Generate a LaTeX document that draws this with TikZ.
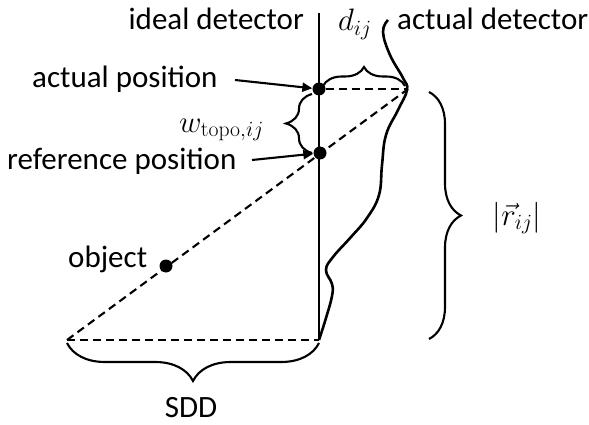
\RequirePackage{fix-cm}
\documentclass[tikz,border=0pt]{standalone}
\usepackage[no-math]{fontspec}
\setmainfont{Carlito}
\usetikzlibrary{arrows.meta,decorations.pathreplacing}
\tikzset{
  detline/.style={line width=2.6pt},
  detdash/.style={line width=2.1pt, dash pattern=on 8pt off 5pt},
  detdot/.style={circle, fill=black, inner sep=0pt, minimum size=13pt},
  detarrow/.style={line width=2.1pt, -{Triangle[length=10pt,width=9pt]}},
  detbrace/.style={line width=2.1pt, decorate, decoration={brace, amplitude=#1}},
  detlabel/.style={inner sep=0pt, font=\fontsize{31}{37}\selectfont}
}
\begin{document}
\begin{tikzpicture}[x=1pt, y=-1pt]
\useasboundingbox (0,0) rectangle (589,425);
% geometry
\coordinate (src) at (67,340);
\coordinate (detbot) at (319,340);
\coordinate (dettop) at (319,13);
\coordinate (hit) at (408,89);
\node[detdot] (actual) at (319,89) {};
\node[detdot] (ref) at (320,153) {};
\node[detdot] (obj) at (166,266) {};
% detectors
\draw[detline] (dettop) -- (detbot);
\draw[detline] plot[smooth, tension=0.7] coordinates {(388,20) (383,32) (390,55) (403,78) (407,90) (398,110) (386,135) (382,165) (379,195) (367,218) (351,237) (333,257) (326,270) (332,284) (332,296) (326,318) (detbot)};
% rays
\draw[detdash] (src) -- (hit);
\draw[detdash] (actual) -- (hit);
\draw[detdash] (src) -- (detbot);
% braces
\draw[detbrace=19pt] (323,86) -- (405,86);
\draw[detbrace=26pt] (312,153) -- (312,94);
\draw[detbrace=32pt] (429,92) -- (429,339);
\draw[detbrace=38pt] (319,343) -- (67,343);
% labels
\node[detlabel, anchor=base east] (ideal) at (304,30) {ideal detector};
\node[detlabel, anchor=base west] (actdet) at (397,30) {actual detector};
\node[detlabel, anchor=base west] (dij) at (338,31) {$d_{ij}$};
\node[detlabel, anchor=base west] (actlbl) at (32,88) {actual position};
\node[detlabel, anchor=base west] (reflbl) at (7,170) {reference position};
\node[detlabel, anchor=base east] (wtopo) at (264,132) {$w_{\mathrm{topo},ij}$};
\node[detlabel, anchor=base west] (objlbl) at (68,267) {object};
\node[detlabel] (rij) at (517,218) {$\left|\vec{r}_{ij}\right|$};
\node[detlabel, anchor=base] (sdd) at (191,417) {SDD};
% pointers
\coordinate (actstart) at (235,80);
\coordinate (refstart) at (252,160);
\draw[detarrow] (actstart) -- (actual);
\draw[detarrow] (refstart) -- (ref);
\end{tikzpicture}
\end{document}
